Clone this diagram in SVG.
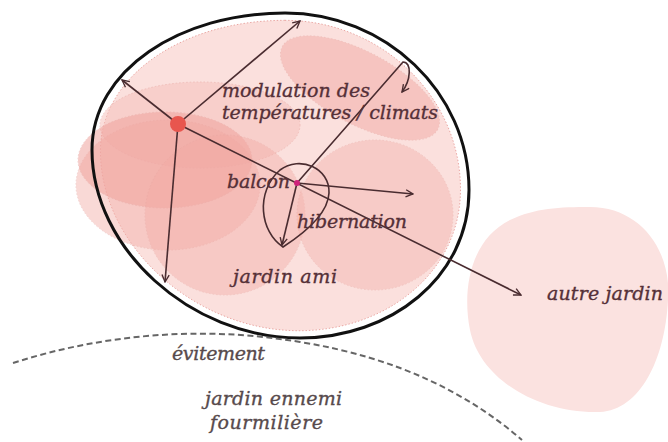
<svg xmlns="http://www.w3.org/2000/svg" width="668" height="442" viewBox="0 0 668 442">
<style>
.lbl{font-family:"DejaVu Serif","Liberation Serif",serif;font-style:italic;font-size:19px;fill:#553038;stroke:#553038;stroke-width:0.35}
.lbl2{font-family:"DejaVu Serif","Liberation Serif",serif;font-style:italic;font-size:19px;fill:#574a4c;stroke:#574a4c;stroke-width:0.35}
.blob{stroke:#e8a39e;stroke-width:1;stroke-dasharray:1.5 2}
.con{fill:none;stroke:#4a2c30;stroke-width:1.6}
</style>
<defs>
<marker id="arr" viewBox="0 0 10 10" refX="9" refY="5" markerWidth="9" markerHeight="9" orient="auto" markerUnits="userSpaceOnUse">
<path d="M1,1 L9,5 L1,9" fill="none" stroke="#4a2c30" stroke-width="1.5"/>
</marker>
</defs>
<rect width="668" height="442" fill="#ffffff"/>

<g id="autre-jardin">
<path d="M590,207 C640,207 672,250 668,300 C665,360 640,410 600,412 C540,414 480,380 470,330 C462,290 470,240 510,220 C535,208 560,207 590,207 Z" fill="#fbe2e0"/>
<text class="lbl" x="547" y="300" textLength="116">autre jardin</text>
</g>

<g id="jardin-ami">
<path d="M285,13 C385,13 469,92 469,190 C469,278 390,338 300,338 C190,338 92,248 92,150 C92,70 180,13 285,13 Z" transform="translate(280 176) scale(0.955) translate(-280 -176)" fill="#fbe0dd" class="blob"/>
<ellipse cx="200" cy="125" rx="100" ry="43" fill="#f6c2bd" opacity="0.55" class="blob"/>
<ellipse cx="168" cy="185" rx="92" ry="65" fill="#f4b4ae" opacity="0.5" class="blob"/>
<ellipse cx="165" cy="160" rx="87" ry="48" fill="#f0a39d" opacity="0.55" class="blob"/>
<circle cx="225" cy="215" r="80" fill="#f3aba5" opacity="0.42" class="blob"/>
<ellipse cx="375" cy="215" rx="78" ry="75" fill="#f4b3ad" opacity="0.45" class="blob"/>
<ellipse cx="360" cy="88" rx="88" ry="36" transform="rotate(28 360 88)" fill="#f2aaa4" opacity="0.5" class="blob"/>
<path d="M285,13 C385,13 469,92 469,190 C469,278 390,338 300,338 C190,338 92,248 92,150 C92,70 180,13 285,13 Z" fill="none" stroke="#111" stroke-width="3"/>
<text class="lbl" x="233" y="283" textLength="104">jardin ami</text>
</g>

<g id="jardin-ennemi">
<path d="M13,363 C100,335 200,325 300,342 C400,358 470,395 522,440" fill="none" stroke="#666" stroke-width="2" stroke-dasharray="6 3.5"/>
<text class="lbl2" x="172" y="360" textLength="93">évitement</text>
<text class="lbl2" x="205" y="405" textLength="137">jardin ennemi</text>
<text class="lbl2" x="210" y="429" textLength="113">fourmilière</text>
</g>

<g id="connectors">
<line class="con" x1="178" y1="124" x2="122" y2="80" marker-end="url(#arr)"/>
<line class="con" x1="178" y1="124" x2="300" y2="21" marker-end="url(#arr)"/>
<line class="con" x1="178" y1="124" x2="165" y2="282" marker-end="url(#arr)"/>
<line class="con" x1="178" y1="124" x2="521" y2="295" marker-end="url(#arr)"/>
<line class="con" x1="297" y1="183" x2="413" y2="194" marker-end="url(#arr)"/>
<line class="con" x1="297" y1="183" x2="282" y2="245" stroke-width="2.4" marker-end="url(#arr)"/>
<path class="con" d="M297,183 L403,62 C412,62 411,80 402,92" marker-end="url(#arr)"/>
<path class="con" d="M283,247 C260,232 255,192 280,170 C300,155 330,168 329,193 C328,215 300,236 283,247 Z" stroke-width="1.2"/>
</g>

<g id="climat-source">
<circle cx="178" cy="124" r="8" fill="#e8564e"/>
<text class="lbl" x="222" y="97" textLength="148">modulation des</text>
<text class="lbl" x="222" y="119" textLength="216">températures / climats</text>
</g>

<g id="balcon">
<circle cx="297" cy="183" r="3" fill="#d0207a"/>
<text class="lbl" x="227" y="188" textLength="63">balcon</text>
<text class="lbl" x="297" y="228" textLength="110">hibernation</text>
</g>
</svg>
